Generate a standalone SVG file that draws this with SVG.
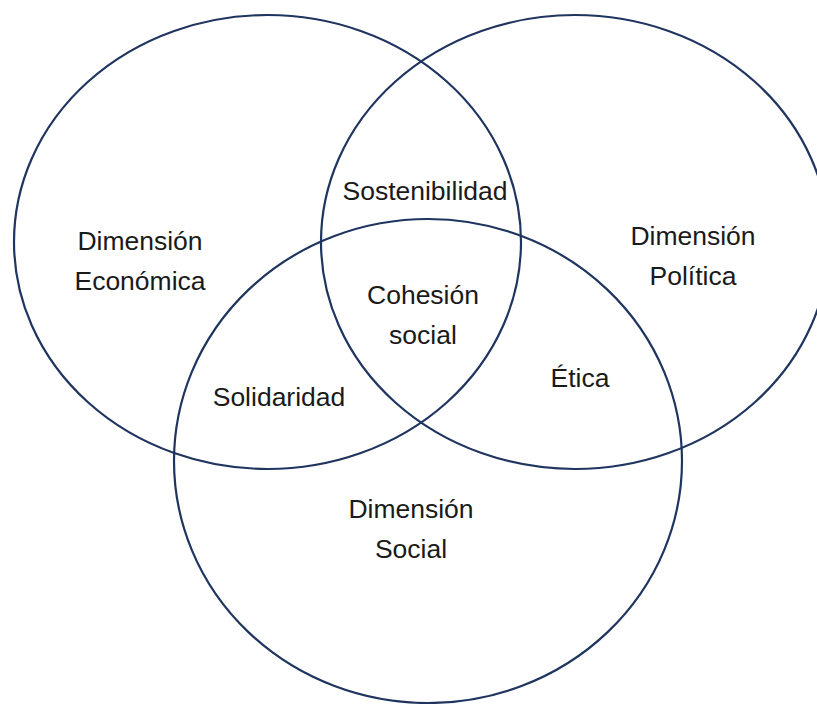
<svg xmlns="http://www.w3.org/2000/svg" width="817" height="704" viewBox="0 0 817 704">
<style>
.c{fill:none;stroke:#1f3560;stroke-width:2.2}
.t{font-family:"Liberation Sans",Arial,sans-serif;font-size:26.5px;fill:#1a1a1a;text-anchor:middle}
</style>
<rect width="817" height="704" fill="#ffffff"/>
<g id="economica">
<ellipse class="c" cx="267.5" cy="242" rx="253.5" ry="227"/>
<text class="t" x="140" y="250">Dimensión</text>
<text class="t" x="140" y="290">Económica</text>
</g>
<g id="politica">
<ellipse class="c" cx="575" cy="242" rx="254" ry="227"/>
<text class="t" x="693" y="245">Dimensión</text>
<text class="t" x="693" y="285">Política</text>
</g>
<g id="social">
<ellipse class="c" cx="428" cy="461" rx="254" ry="242"/>
<text class="t" x="411" y="518">Dimensión</text>
<text class="t" x="411" y="558">Social</text>
</g>
<g id="sostenibilidad">
<text class="t" x="425" y="200">Sostenibilidad</text>
</g>
<g id="cohesion">
<text class="t" x="423" y="304">Cohesión</text>
<text class="t" x="423" y="344">social</text>
</g>
<g id="solidaridad">
<text class="t" x="279" y="406">Solidaridad</text>
</g>
<g id="etica">
<text class="t" x="580" y="387">Ética</text>
</g>
</svg>
